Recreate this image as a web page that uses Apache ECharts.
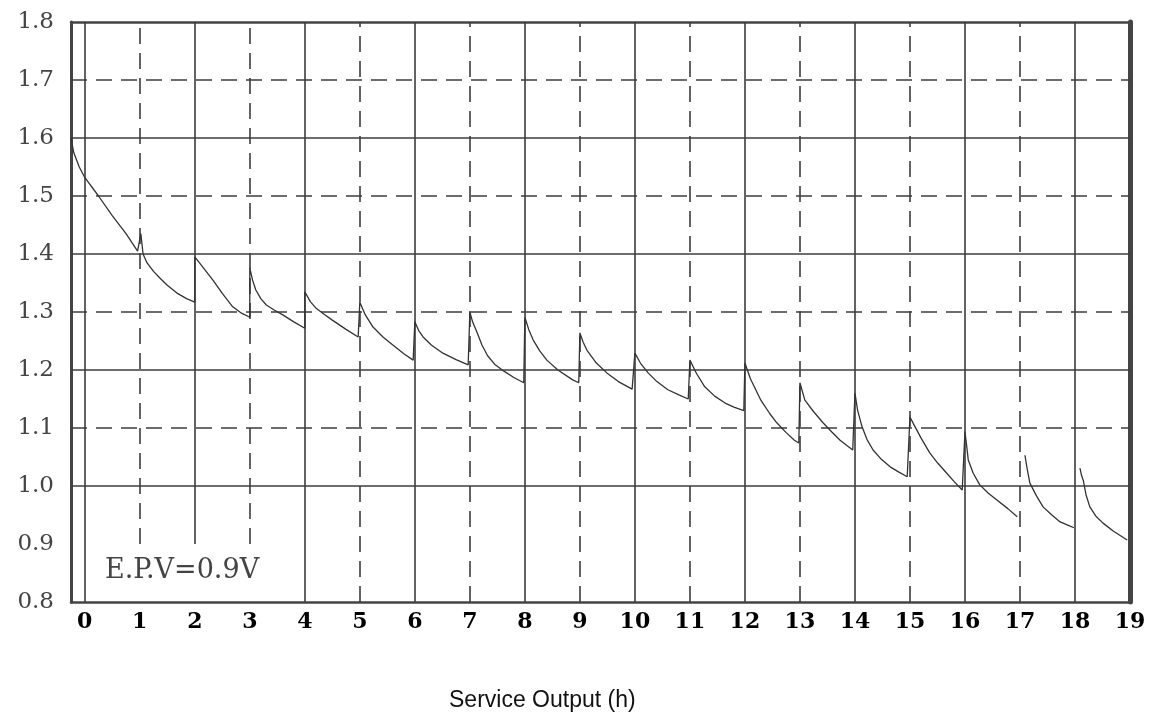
<!DOCTYPE html>
<html>
<head>
<meta charset="utf-8">
<script src="https://cdn.jsdelivr.net/npm/echarts@6/dist/echarts.min.js"></script>
<style>html,body{margin:0;padding:0;background:#fff;}#c{width:1154px;height:714px;}</style>
</head>
<body>
<div id="c"></div>
<script>
// Service output (h) vs. voltage (V); null = gap between discharge segments
const hours = [
  -0.25,-0.2,-0.1,0,0.25,0.5,0.75,0.96,
  1.02,1.06,1.13,1.25,1.36,1.5,1.67,1.85,2.0,
  2.0,2.15,2.33,2.5,2.69,2.85,3.0,
  3.0,3.05,3.11,3.2,3.3,3.45,3.6,3.8,4.0,
  4.0,4.1,4.2,4.35,4.5,4.75,4.97,
  5.0,5.1,5.24,5.42,5.6,5.8,5.97,
  6.0,6.07,6.15,6.3,6.51,6.75,6.97,
  7.0,7.05,7.13,7.22,7.32,7.45,7.62,7.8,7.98,
  8.0,8.07,8.15,8.27,8.4,8.6,8.87,8.98,
  9.0,9.06,9.13,9.3,9.49,9.7,9.95,
  10.0,10.1,10.24,10.4,10.6,10.8,10.97,
  11.0,11.12,11.27,11.45,11.64,11.8,11.98,
  12.0,12.1,12.29,12.45,12.58,12.75,12.9,12.98,
  13.0,13.09,13.25,13.42,13.58,13.73,13.96,
  14.0,14.05,14.13,14.22,14.33,14.48,14.64,14.8,14.95,
  15.0,15.06,15.2,15.36,15.5,15.67,15.8,15.95,
  16.0,16.03,16.06,16.15,16.27,16.42,16.58,16.78,16.95,
  null,
  17.09,17.13,17.18,17.3,17.42,17.58,17.73,17.88,17.98,
  null,
  18.09,18.12,18.15,18.2,18.27,18.38,18.51,18.7,18.95
];
const volts = [
  1.600,1.575,1.550,1.532,1.500,1.466,1.435,1.405,
  1.435,1.400,1.385,1.370,1.359,1.346,1.333,1.323,1.317,
  1.395,1.377,1.355,1.332,1.309,1.298,1.291,
  1.376,1.355,1.338,1.323,1.312,1.303,1.295,1.283,1.272,
  1.335,1.318,1.307,1.296,1.286,1.270,1.257,
  1.317,1.295,1.274,1.257,1.243,1.228,1.217,
  1.283,1.268,1.257,1.243,1.229,1.218,1.209,
  1.300,1.283,1.265,1.243,1.225,1.210,1.198,1.187,1.178,
  1.291,1.270,1.252,1.233,1.217,1.200,1.183,1.178,
  1.264,1.248,1.234,1.212,1.195,1.180,1.167,
  1.229,1.212,1.195,1.180,1.166,1.157,1.150,
  1.217,1.194,1.171,1.155,1.143,1.136,1.130,
  1.212,1.185,1.148,1.125,1.109,1.092,1.079,1.074,
  1.178,1.148,1.128,1.109,1.093,1.079,1.062,
  1.160,1.130,1.102,1.080,1.062,1.046,1.033,1.024,1.016,
  1.119,1.108,1.083,1.057,1.040,1.022,1.008,0.993,
  1.094,1.070,1.045,1.022,1.002,0.988,0.976,0.961,0.947,
  null,
  1.053,1.030,1.005,0.983,0.964,0.950,0.938,0.932,0.928,
  null,
  1.031,1.018,1.010,0.985,0.964,0.948,0.936,0.922,0.907
];
const xTicks = [0,1,2,3,4,5,6,7,8,9,10,11,12,13,14,15,16,17,18,19];
const yTicks = [0.8,0.9,1.0,1.1,1.2,1.3,1.4,1.5,1.6,1.7,1.8];
const solidHours = [0,4,6,8,10,12,14,16,18];
const shortSolidHours = [2];
const dashedHours = [5,7,9,11,13,15,17];
const shortDashedHours = [1,3];
const solidVolts = [1.0,1.2,1.4,1.6];
const dashedVolts = [1.1,1.3,1.5,1.7];
const xMin = -0.25, xMax = 19, yMin = 0.8, yMax = 1.8, shortBottom = 0.9;

const gridColor = '#3c3c3c';
const solidStyle = {color: gridColor, width: 1.6, type: 'solid'};
const dashStyle = {color: gridColor, width: 1.6, type: [16, 9]};
const markData = [];
solidHours.forEach(h => markData.push([{coord:[h,yMin], lineStyle: solidStyle},{coord:[h,yMax]}]));
shortSolidHours.forEach(h => markData.push([{coord:[h,shortBottom], lineStyle: solidStyle},{coord:[h,yMax]}]));
dashedHours.forEach(h => markData.push([{coord:[h,yMin], lineStyle: dashStyle},{coord:[h,yMax]}]));
shortDashedHours.forEach(h => markData.push([{coord:[h,shortBottom], lineStyle: dashStyle},{coord:[h,yMax]}]));
solidVolts.forEach(v => markData.push([{coord:[xMin,v], lineStyle: solidStyle},{coord:[xMax,v]}]));
dashedVolts.forEach(v => markData.push([{coord:[xMin,v], lineStyle: dashStyle},{coord:[xMax,v]}]));

const seriesData = hours.map((h,i) => (h === null || volts[i] === null) ? ['-','-'] : [h, volts[i]]);

const chart = echarts.init(document.getElementById('c'), null, {renderer: 'canvas'});
chart.setOption({
  backgroundColor: '#ffffff',
  animation: false,
  title: [
    {text: 'Service Output (h)', left: 444, top: 684,
     textStyle: {fontFamily: 'Liberation Sans, Arial, sans-serif', fontSize: 23, fontWeight: 'normal', color: '#111'}},
    {text: 'E.P.V=0.9V', left: 100, top: 552,
     textStyle: {fontFamily: 'DejaVu Serif, serif', fontSize: 27, fontWeight: 'normal', color: '#444'}}
  ],
  grid: {left: 71, right: 24, top: 22, bottom: 112, containLabel: false},
  xAxis: [
    {type: 'value', min: xMin, max: xMax, position: 'bottom',
     axisLine: {show: true, onZero: false, lineStyle: {color: '#444', width: 2.5}},
     axisTick: {show: false}, splitLine: {show: false},
     axisLabel: {customValues: xTicks, margin: 9, color: '#000',
       fontFamily: 'DejaVu Serif, serif', fontWeight: 'bold', fontSize: 22,
       formatter: v => String(Math.round(v))}},
    {type: 'value', min: xMin, max: xMax, position: 'top',
     axisLine: {show: true, onZero: false, lineStyle: {color: '#444', width: 2.5}},
     axisTick: {show: false}, splitLine: {show: false}, axisLabel: {show: false}}
  ],
  yAxis: [
    {type: 'value', min: yMin, max: yMax, position: 'left',
     axisLine: {show: true, onZero: false, lineStyle: {color: '#444', width: 3}},
     axisTick: {show: false}, splitLine: {show: false},
     axisLabel: {customValues: yTicks, margin: 17, color: '#444',
       fontFamily: 'DejaVu Serif, serif', fontSize: 23,
       formatter: v => v.toFixed(1)}},
    {type: 'value', min: yMin, max: yMax, position: 'right',
     axisLine: {show: true, onZero: false, lineStyle: {color: '#444', width: 5}},
     axisTick: {show: false}, splitLine: {show: false}, axisLabel: {show: false}}
  ],
  series: [
    {type: 'line', xAxisIndex: 0, yAxisIndex: 0, data: [], silent: true,
     markLine: {silent: true, symbol: ['none','none'], label: {show: false}, animation: false, data: markData}},
    {type: 'line', xAxisIndex: 0, yAxisIndex: 0, data: seriesData,
     showSymbol: false, symbol: 'none', connectNulls: false, smooth: false,
     lineStyle: {color: '#333', width: 1.3}, z: 5}
  ]
});
</script>
</body>
</html>
